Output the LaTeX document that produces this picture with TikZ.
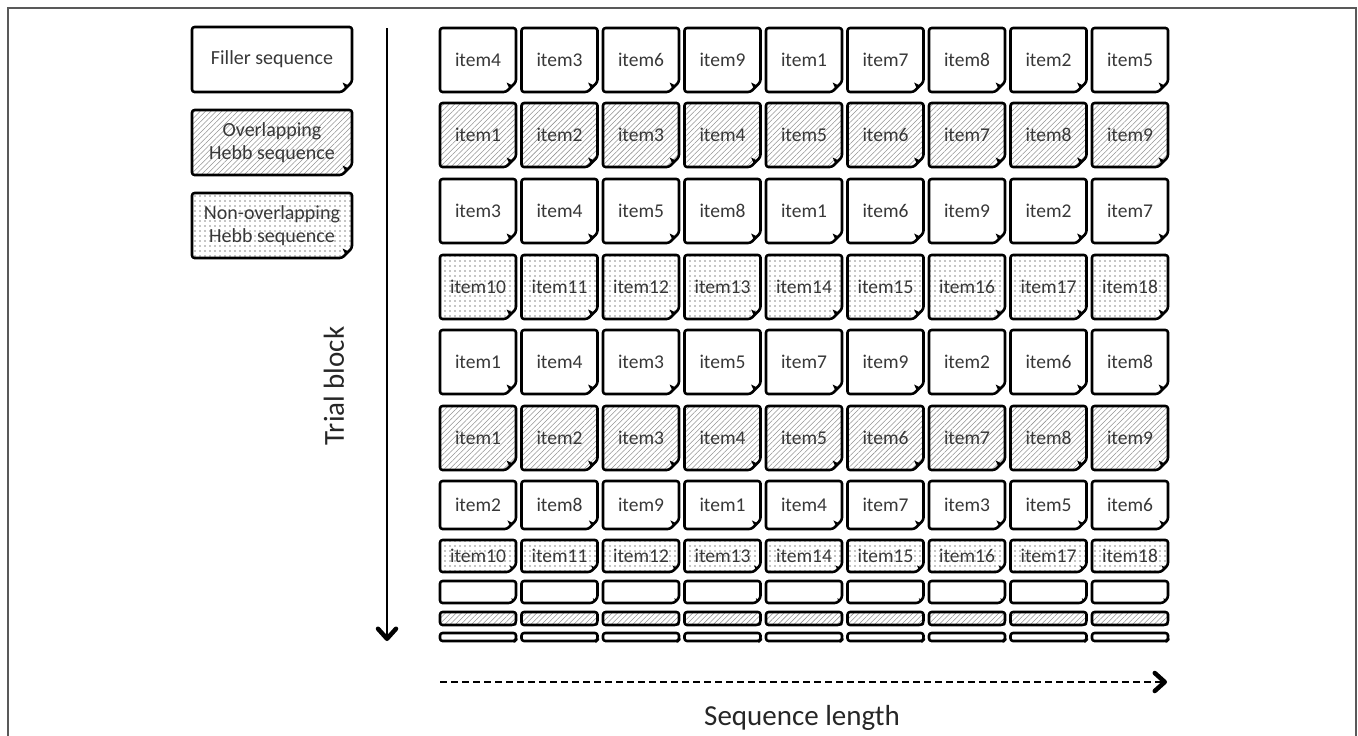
\documentclass[tikz,border=0pt]{standalone}
\usepackage{fontspec}
\setmainfont{Carlito}
\usetikzlibrary{arrows.meta,patterns.meta}
\tikzset{
  cellline/.style={draw=black,line width=2.6pt,line join=round},
  celltext/.style={inner sep=0pt,text=black!78,font=\fontsize{19.5}{22}\selectfont,align=center},
  legtext/.style={celltext,font=\fontsize{20}{23}\selectfont},
  filler/.style={fill=white},
  hebbA/.style={pattern={Lines[angle=45,distance=3.8pt,line width=0.55pt]},pattern color=gray!85},
  hebbB/.style={pattern={Dots[distance=5pt,radius=0.85pt]},pattern color=gray!90},
  axisarrow/.style={line width=2.8pt,-{Straight Barb[length=10pt,width=18pt,line width=4.5pt 0,round]}},
  axislabel/.style={inner sep=0pt,text=black!85,font=\fontsize{29}{32}\selectfont},
}
% name, xleft, ytop, width, height, cut, style, text, text style
\newcommand\cellbox[9]{%
  \draw[cellline,#7,rounded corners=2.5pt] ({#2},{#3}) -- ({#2+#4},{#3}) -- ({#2+#4},{#3+#5-#6}) -- ({#2+#4-#6},{#3+#5}) -- ({#2},{#3+#5}) -- cycle;
  \fill[black] ({#2+#4-#6},{#3+#5}) .. controls ({#2+#4-0.55*#6},{#3+#5-0.15*#6}) .. ({#2+#4-0.95*#6},{#3+#5-0.95*#6}) .. controls ({#2+#4-0.15*#6},{#3+#5-0.55*#6}) .. ({#2+#4},{#3+#5-#6}) -- cycle;
  \node[#9] (#1) at ({#2+#4/2},{#3+#5/2}) {#8};
}
\begin{document}
\begin{tikzpicture}[x=1pt,y=-1pt]
\useasboundingbox (0,0) rectangle (1358,736);
% outer frame
\draw[black!65,line width=1.2pt] (8,745) -- (8,8) -- (1356,8) -- (1356,745);
% legend
\cellbox{legF}{192}{27}{160}{65}{10}{filler}{Filler sequence}{legtext}
\cellbox{legO}{192}{110}{160}{65}{10}{hebbA}{Overlapping\\Hebb sequence}{legtext}
\cellbox{legN}{192}{193}{160}{65}{10}{hebbB}{Non-overlapping\\Hebb sequence}{legtext}
% grid rows
\foreach \t [count=\i, evaluate=\i as \xx using 440+81.5*(\i-1)] in {4,3,6,9,1,7,8,2,5}
  {\cellbox{r1c\i}{\xx}{28}{76}{64}{10}{filler}{item\t}{celltext}}
\foreach \t [count=\i, evaluate=\i as \xx using 440+81.5*(\i-1)] in {1,2,3,4,5,6,7,8,9}
  {\cellbox{r2c\i}{\xx}{103}{76}{64}{10}{hebbA}{item\t}{celltext}}
\foreach \t [count=\i, evaluate=\i as \xx using 440+81.5*(\i-1)] in {3,4,5,8,1,6,9,2,7}
  {\cellbox{r3c\i}{\xx}{179}{76}{64}{10}{filler}{item\t}{celltext}}
\foreach \t [count=\i, evaluate=\i as \xx using 440+81.5*(\i-1)] in {10,11,12,13,14,15,16,17,18}
  {\cellbox{r4c\i}{\xx}{255}{76}{64}{10}{hebbB}{item\t}{celltext}}
\foreach \t [count=\i, evaluate=\i as \xx using 440+81.5*(\i-1)] in {1,4,3,5,7,9,2,6,8}
  {\cellbox{r5c\i}{\xx}{330}{76}{64}{10}{filler}{item\t}{celltext}}
\foreach \t [count=\i, evaluate=\i as \xx using 440+81.5*(\i-1)] in {1,2,3,4,5,6,7,8,9}
  {\cellbox{r6c\i}{\xx}{406}{76}{64}{10}{hebbA}{item\t}{celltext}}
\foreach \t [count=\i, evaluate=\i as \xx using 440+81.5*(\i-1)] in {2,8,9,1,4,7,3,5,6}
  {\cellbox{r7c\i}{\xx}{481}{76}{48}{9}{filler}{item\t}{celltext}}
\foreach \t [count=\i, evaluate=\i as \xx using 440+81.5*(\i-1)] in {10,11,12,13,14,15,16,17,18}
  {\cellbox{r8c\i}{\xx}{540}{76}{32}{7}{hebbB}{item\t}{celltext}}
\foreach \i [evaluate=\i as \xx using 440+81.5*(\i-1)] in {1,...,9}
  {\cellbox{r9c\i}{\xx}{581}{76}{22}{5}{filler}{}{celltext}}
\foreach \i [evaluate=\i as \xx using 440+81.5*(\i-1)] in {1,...,9}
  {\cellbox{r10c\i}{\xx}{612}{76}{13}{2}{hebbA}{}{celltext}}
\foreach \i [evaluate=\i as \xx using 440+81.5*(\i-1)] in {1,...,9}
  {\cellbox{r11c\i}{\xx}{633}{76}{8}{1.2}{filler}{}{celltext}}
% axes
\coordinate (vtop) at (387,28);
\coordinate (vbot) at (387,641);
\draw[axisarrow] (vtop) -- (vbot);
\coordinate (hl) at (440,682);
\coordinate (hr) at (1167,682);
\draw[axisarrow,dash pattern=on 7pt off 4pt] (hl) -- (hr);
\node[axislabel,rotate=90] (trial) at (334,386) {Trial block};
\node[axislabel] (seq) at (802,718) {Sequence length};
\end{tikzpicture}
\end{document}
